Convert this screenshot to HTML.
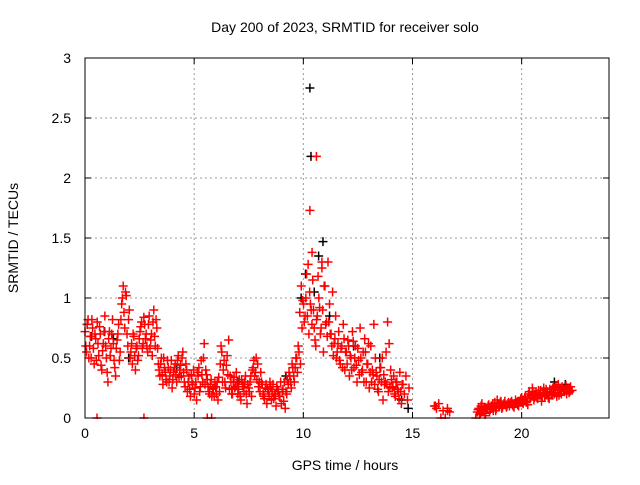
<!DOCTYPE html>
<html><head><meta charset="utf-8"><style>
html,body{margin:0;padding:0;background:#fff;}
svg text{font-family:"Liberation Sans",sans-serif;font-size:14px;fill:#000;}
</style></head><body>
<svg id="chart" width="640" height="480" viewBox="0 0 640 480" xmlns="http://www.w3.org/2000/svg">
<rect width="640" height="480" fill="#fff"/>
<g id="grid"></g>
<g id="axes"></g>
<g id="series-black"></g>
<g id="series-red"></g>
<rect x="85" y="58" width="524" height="360" fill="none" stroke="#000" stroke-width="1"/>
<text x="345" y="32" text-anchor="middle">Day 200 of 2023, SRMTID for receiver solo</text>
<text x="345" y="470" text-anchor="middle">GPS time / hours</text>
<text x="18" y="238" text-anchor="middle" transform="rotate(-90 18 238)">SRMTID / TECUs</text>
</svg>
<script>
const xTicks=[0,5,10,15,20];
const yTicks=[0,0.5,1,1.5,2,2.5,3];
const yTickLabels=["0","0.5","1","1.5","2","2.5","3"];
const redStart1=0, redStep1=0.07;
const redVals1=[0.72,0.55,0.82,0.6,0.5,0.75,0.45,0.66,0.8,0.52,0.7,0.4,0.62,0.85,0.5,0.3,0.72,0.58,0.82,0.48,0.35,0.65,0.78,0.55,0.95,1.1,0.75,1.02,0.6,0.9,0.55,0.45,0.68,0.4,0.6,0.52,0.72,0.8,0.62,0.78,0.7,0.55,0.85,0.65,0.52,0.9,0.6,0.75,0.45,0.35,0.5,0.28,0.42,0.32,0.48,0.3,0.4,0.25,0.38,0.45,0.3,0.52,0.4,0.35,0.55,0.3,0.45,0.22,0.35,0.18,0.3,0.4,0.25,0.15,0.35,0.22,0.48,0.3,0.62,0.4,0.32,0.22,0.28,0.18,0.25,0.3,0.2,0.15,0.22,0.6,0.3,0.48,0.25,0.52,0.65,0.35,0.2,0.3,0.25,0.38,0.2,0.32,0.15,0.28,0.22,0.35,0.12,0.25,0.3,0.18,0.42,0.35,0.5,0.45,0.3,0.38,0.28,0.18,0.25,0.12,0.22,0.3,0.15,0.28,0.2,0.1,0.24,0.18,0.3,0.22,0.14,0.08,0.2,0.28,0.35,0.25,0.42,0.3,0.5,0.38,0.55,0.45,0.75,0.95,0.85,1.2,1.28,1.05,0.9,1.15,0.75,0.6,0.85,1.0,0.7,1.25,0.55,1.1,0.8,1.3,0.95,0.7,1.05,0.62,0.85,0.55,0.72,0.45,0.6,0.78,0.4,0.55,0.65,0.35,0.5,0.72,0.42,0.6,0.3,0.48,0.75,0.38,0.55,0.66,0.3,0.45,0.25,0.6,0.4,0.78,0.5,0.35,0.22,0.42,0.3,0.15,0.28,0.55,0.8,0.62,0.4,0.25,0.35,0.18,0.3,0.22,0.38,0.12,0.28,0.2,0.35,0.15,0.25];
const redStart1b=0.035, redStep1b=0.07;
const redVals1b=[0.6,0.78,0.5,0.68,0.82,0.58,0.7,0.48,0.62,0.76,0.44,0.56,0.72,0.6,0.38,0.66,0.52,0.7,0.62,0.42,0.58,0.7,0.48,0.82,1.0,0.88,1.05,0.7,0.82,0.5,0.62,0.7,0.52,0.58,0.48,0.66,0.76,0.58,0.84,0.66,0.6,0.78,0.58,0.7,0.8,0.68,0.82,0.58,0.4,0.45,0.36,0.5,0.38,0.3,0.42,0.35,0.48,0.32,0.42,0.36,0.48,0.34,0.44,0.5,0.38,0.26,0.4,0.3,0.24,0.36,0.28,0.2,0.3,0.38,0.42,0.26,0.36,0.5,0.28,0.36,0.26,0.2,0.32,0.24,0.18,0.26,0.3,0.34,0.45,0.55,0.4,0.3,0.44,0.36,0.24,0.3,0.2,0.34,0.26,0.3,0.24,0.18,0.32,0.26,0.3,0.2,0.28,0.22,0.35,0.4,0.48,0.38,0.32,0.26,0.22,0.3,0.2,0.16,0.28,0.24,0.18,0.26,0.22,0.16,0.2,0.26,0.22,0.18,0.12,0.24,0.3,0.22,0.32,0.38,0.3,0.45,0.35,0.42,0.5,0.6,0.88,1.1,0.98,0.8,1.0,0.85,0.7,0.95,0.78,0.9,0.65,0.82,1.18,0.92,0.75,0.9,1.1,0.78,0.68,0.8,0.7,0.6,0.52,0.66,0.5,0.62,0.48,0.58,0.42,0.66,0.55,0.45,0.6,0.52,0.4,0.64,0.5,0.44,0.58,0.36,0.5,0.4,0.3,0.55,0.45,0.62,0.38,0.3,0.36,0.28,0.38,0.24,0.32,0.42,0.5,0.36,0.3,0.28,0.22,0.26,0.32,0.26,0.2,0.3,0.24,0.16,0.22,0.28];
const redStart2=16.0, redStep2=0.1;
const redVals2=[0.1,0.08,0.12,0.0,0.06,0.0,0.08,0.05];
const redStart3=17.9, redStep3=0.07;
const redVals3=[0.0,0.05,0.08,0.04,0.12,0.06,0.02,0.07,0.1,0.05,0.08,0.12,0.09,0.06,0.15,0.1,0.13,0.08,0.11,0.14,0.09,0.12,0.1,0.13,0.11,0.09,0.15,0.12,0.1,0.14,0.17,0.12,0.16,0.13,0.11,0.22,0.18,0.25,0.15,0.2,0.17,0.23,0.19,0.14,0.21,0.18,0.24,0.2,0.16,0.22,0.19,0.26,0.21,0.18,0.28,0.23,0.2,0.25,0.22,0.27,0.24,0.21,0.26,0.23];
const redStart3b=18.0, redStep3b=0.07;
const redVals3b=[0.07,0.03,0.1,0.06,0.09,0.04,0.08,0.11,0.07,0.1,0.06,0.13,0.08,0.12,0.1,0.14,0.09,0.12,0.11,0.1,0.13,0.12,0.14,0.1,0.12,0.13,0.11,0.14,0.16,0.13,0.15,0.18,0.14,0.2,0.16,0.19,0.22,0.17,0.21,0.16,0.2,0.23,0.18,0.25,0.2,0.22,0.17,0.24,0.21,0.25,0.2,0.27,0.23,0.19,0.24,0.26,0.22,0.24,0.2,0.25,0.22];
const redExtraT=[0.55,2.7,5.6,5.8,10.3,10.6,10.4,10.85,16.05,16.6];
const redExtraV=[0,0,0,0,1.73,2.18,1.38,1.3,0.1,0.06];
const blackT=[10.3,10.35,10.9,0.1,0.3,0.9,1.3,2.0,4.2,7.0,9.2,9.9,10.1,10.5,11.2,12.3,13.5,14.5,14.8,19.5,21.5,22.0,10.7];
const blackV=[2.75,2.18,1.47,0.78,0.68,0.72,0.66,0.5,0.42,0.3,0.35,1.0,1.2,1.05,0.85,0.6,0.5,0.15,0.08,0.12,0.3,0.28,1.35];

const X0=85,X1=609,Y0=418,Y1=58;
const xs=h=>X0+h/24*(X1-X0);
const ys=v=>Y0-v/3*(Y0-Y1);
const NS="http://www.w3.org/2000/svg";
const grid=document.getElementById('grid'),axes=document.getElementById('axes');
function mk(tag,attrs,parent){const e=document.createElementNS(NS,tag);for(const k in attrs)e.setAttribute(k,attrs[k]);parent.appendChild(e);return e;}
xTicks.forEach(t=>{
  const x=xs(t);
  if(t>0){const g=mk('line',{x1:x,x2:x,y1:Y1,y2:Y0,stroke:'#999','stroke-dasharray':'2,3','stroke-width':1},grid);
  
  }
  mk('line',{x1:x,x2:x,y1:Y0,y2:Y0-6,stroke:'#000'},axes);
  mk('line',{x1:x,x2:x,y1:Y1,y2:Y1+6,stroke:'#000'},axes);
  const tx=mk('text',{x:x,y:Y0+20,'text-anchor':'middle'},axes);tx.textContent=t;
  
  
});
yTicks.forEach((t,i)=>{
  const y=ys(t);
  if(t>0&&t<3){const g=mk('line',{x1:X0,x2:X1,y1:y,y2:y,stroke:'#999','stroke-dasharray':'2,3','stroke-width':1},grid);
  
  }
  mk('line',{x1:X0,x2:X0+6,y1:y,y2:y,stroke:'#000'},axes);
  mk('line',{x1:X1,x2:X1-6,y1:y,y2:y,stroke:'#000'},axes);
  const tx=mk('text',{x:X0-14,y:y+5,'text-anchor':'end'},axes);tx.textContent=yTickLabels[i];
  
  
});
function cross(h,v,color,parent){
  const x=xs(h),y=Math.min(ys(v),Y0+1);
  const p=mk('path',{d:`M${x-4.5} ${y}H${x+4.5}M${x} ${y-4.5}V${Math.min(y+4.5,Y0+1)}`,stroke:color,'stroke-width':1.5,fill:'none'},parent);
  
  
}
const bg=document.getElementById('series-black'),rg=document.getElementById('series-red');
blackT.forEach((t,i)=>cross(t,blackV[i],'#000',bg));
redVals1.forEach((v,i)=>cross(redStart1+i*redStep1,v,'#f00',rg));
redVals1b.forEach((v,i)=>cross(redStart1b+i*redStep1b,v,'#f00',rg));
redVals2.forEach((v,i)=>cross(redStart2+i*redStep2,v,'#f00',rg));
redVals3.forEach((v,i)=>cross(redStart3+i*redStep3,v,'#f00',rg));
redVals3b.forEach((v,i)=>cross(redStart3b+i*redStep3b,v,'#f00',rg));
redExtraT.forEach((t,i)=>cross(t,redExtraV[i],'#f00',rg));
</script>
</body></html>
